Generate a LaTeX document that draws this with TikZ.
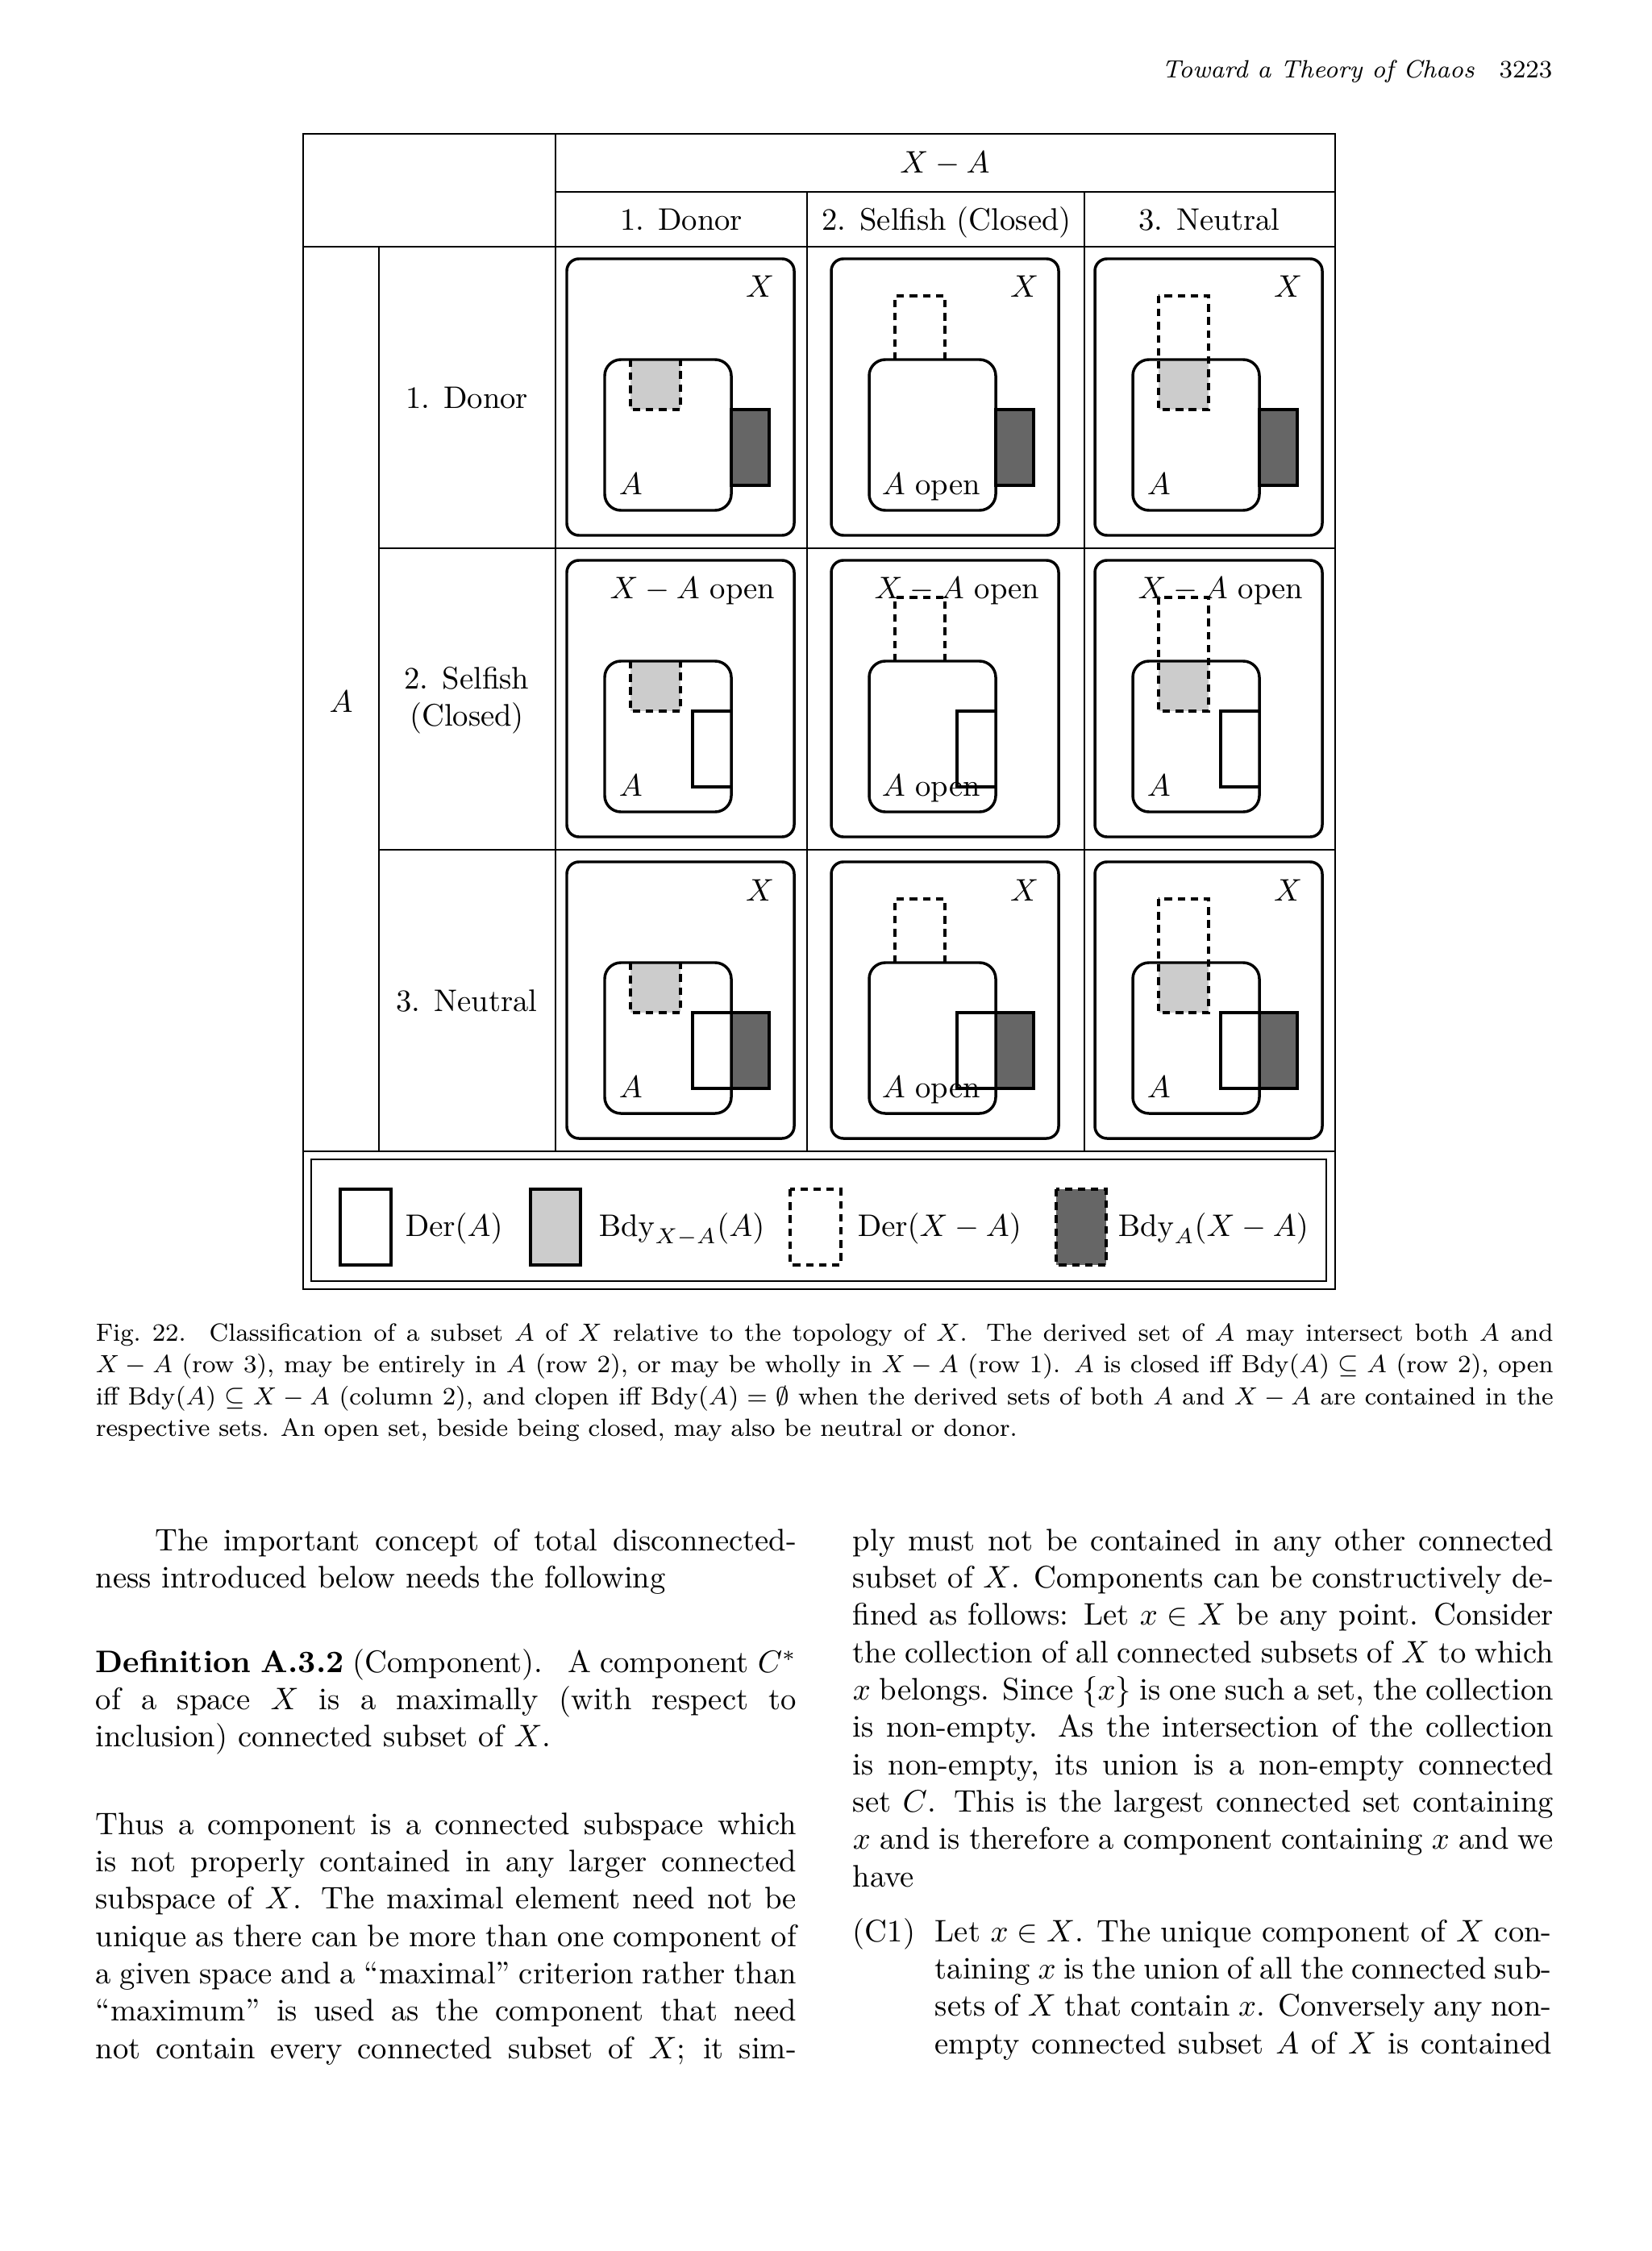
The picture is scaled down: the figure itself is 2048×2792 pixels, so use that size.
\documentclass[tikz,border=0pt]{standalone}
\usepackage{amsmath}
\usepackage{amssymb}
\usepackage{tikz}
\usetikzlibrary{positioning}
\definecolor{bdyin}{RGB}{204,204,204}
\definecolor{bdyout}{RGB}{102,102,102}
\tolerance=9999\relax
\hyphenpenalty=10000\relax
\tikzset{
  frame/.style={line width=0.75pt},
  setX/.style={line width=0.9pt, rounded corners=3.9pt},
  setA/.style={line width=0.9pt, rounded corners=5.2pt},
  derout/.style={line width=0.8pt, dash pattern=on 2.4pt off 1.8pt},
  plain/.style={line width=0.8pt},
  lbl/.style={inner sep=0pt, font=\fontsize{10}{12}\selectfont},
  body/.style={inner sep=0pt, anchor=base west, text width=225pt, align=justify,
    font=\fontsize{10}{12}\selectfont},
}

\begin{document}
\begin{tikzpicture}[x=0.25886pt, y=-0.25886pt]
  \useasboundingbox (0,0) rectangle (2048,2792);

  % Running head
  \node[inner sep=0pt, anchor=base east, font=\fontsize{8}{10}\selectfont] (head) at (1926,97)
    {\textit{Toward a Theory of Chaos}\quad 3223};

  % Table frame
  \draw[frame] (376,166) rectangle (1656,1599);
  \draw[frame] (689,238) -- (1656,238);
  \draw[frame] (376,306) -- (1656,306);
  \draw[frame] (689,166) -- (689,1428);
  \draw[frame] (1001,238) -- (1001,1428);
  \draw[frame] (1345,238) -- (1345,1428);
  \draw[frame] (470,306) -- (470,1428);
  \draw[frame] (470,680) -- (1656,680);
  \draw[frame] (470,1054) -- (1656,1054);
  \draw[frame] (376,1428) -- (1656,1428);
  \draw[frame] (386,1438) rectangle (1645,1589);

  % Headings
  \node[lbl, anchor=base] (hxa) at (1172,215) {$X-A$};
  \node[lbl, anchor=base] (hc1) at (845,286) {1. Donor};
  \node[lbl, anchor=base] (hc2) at (1174,286) {2. Selfish (Closed)};
  \node[lbl, anchor=base] (hc3) at (1500,286) {3. Neutral};
  \node[lbl, anchor=base] (ha) at (423,883) {$A$};
  \node[lbl, anchor=base] (hr1) at (579,507) {1. Donor};
  \node[lbl, anchor=north, align=center] (hr2) at (579,826) {2. Selfish\\(Closed)};
  \node[lbl, anchor=base] (hr3) at (579,1254) {3. Neutral};

  % Row 1, column 1
  \begin{scope}[shift={(703,321)}]
    \draw[setX] (0,0) rectangle (282,343);
    \fill[bdyin] (79,125) rectangle (141,187);
    \draw[derout] (79,125) -- (79,187) -- (141,187) -- (141,125);
    \draw[plain, fill=bdyout] (204,187) rectangle (251,281);
    \draw[setA] (47,125) rectangle (204,312);
    \node[lbl, anchor=base east] (x11) at (258,48) {$X$};
    \node[lbl, anchor=base west] (a11) at (64,292) {$A$};
  \end{scope}

  % Row 1, column 2
  \begin{scope}[shift={(1031,321)}]
    \draw[setX] (0,0) rectangle (282,343);
    \draw[derout] (79,125) -- (79,46) -- (141,46) -- (141,125);
    \draw[plain, fill=bdyout] (204,187) rectangle (251,281);
    \draw[setA] (47,125) rectangle (204,312);
    \node[lbl, anchor=base east] (x12) at (258,48) {$X$};
    \node[lbl, anchor=base west] (a12) at (62,292) {$A$ open};
  \end{scope}

  % Row 1, column 3
  \begin{scope}[shift={(1358,321)}]
    \draw[setX] (0,0) rectangle (282,343);
    \fill[bdyin] (79,125) rectangle (141,187);
    \draw[derout] (79,46) rectangle (141,187);
    \draw[plain, fill=bdyout] (204,187) rectangle (251,281);
    \draw[setA] (47,125) rectangle (204,312);
    \node[lbl, anchor=base east] (x13) at (258,48) {$X$};
    \node[lbl, anchor=base west] (a13) at (64,292) {$A$};
  \end{scope}

  % Row 2, column 1
  \begin{scope}[shift={(703,695)}]
    \draw[setX] (0,0) rectangle (282,343);
    \fill[bdyin] (79,125) rectangle (141,187);
    \draw[derout] (79,125) -- (79,187) -- (141,187) -- (141,125);
    \draw[plain] (204,187) -- (156,187) -- (156,281) -- (204,281);
    \draw[setA] (47,125) rectangle (204,312);
    \node[lbl, anchor=base east] (x21) at (259,47) {$X-A$ open};
    \node[lbl, anchor=base west] (a21) at (64,292) {$A$};
  \end{scope}

  % Row 2, column 2
  \begin{scope}[shift={(1031,695)}]
    \draw[setX] (0,0) rectangle (282,343);
    \draw[derout] (79,125) -- (79,46) -- (141,46) -- (141,125);
    \draw[plain] (204,187) -- (156,187) -- (156,281) -- (204,281);
    \draw[setA] (47,125) rectangle (204,312);
    \node[lbl, anchor=base east] (x22) at (259,47) {$X-A$ open};
    \node[lbl, anchor=base west] (a22) at (62,292) {$A$ open};
  \end{scope}

  % Row 2, column 3
  \begin{scope}[shift={(1358,695)}]
    \draw[setX] (0,0) rectangle (282,343);
    \fill[bdyin] (79,125) rectangle (141,187);
    \draw[derout] (79,46) rectangle (141,187);
    \draw[plain] (204,187) -- (156,187) -- (156,281) -- (204,281);
    \draw[setA] (47,125) rectangle (204,312);
    \node[lbl, anchor=base east] (x23) at (259,47) {$X-A$ open};
    \node[lbl, anchor=base west] (a23) at (64,292) {$A$};
  \end{scope}

  % Row 3, column 1
  \begin{scope}[shift={(703,1069)}]
    \draw[setX] (0,0) rectangle (282,343);
    \fill[bdyin] (79,125) rectangle (141,187);
    \draw[derout] (79,125) -- (79,187) -- (141,187) -- (141,125);
    \fill[bdyout] (204,187) rectangle (251,281);
    \draw[plain] (156,187) rectangle (251,281);
    \draw[setA] (47,125) rectangle (204,312);
    \node[lbl, anchor=base east] (x31) at (258,48) {$X$};
    \node[lbl, anchor=base west] (a31) at (64,292) {$A$};
  \end{scope}

  % Row 3, column 2
  \begin{scope}[shift={(1031,1069)}]
    \draw[setX] (0,0) rectangle (282,343);
    \draw[derout] (79,125) -- (79,46) -- (141,46) -- (141,125);
    \fill[bdyout] (204,187) rectangle (251,281);
    \draw[plain] (156,187) rectangle (251,281);
    \draw[setA] (47,125) rectangle (204,312);
    \node[lbl, anchor=base east] (x32) at (258,48) {$X$};
    \node[lbl, anchor=base west] (a32) at (62,292) {$A$ open};
  \end{scope}

  % Row 3, column 3
  \begin{scope}[shift={(1358,1069)}]
    \draw[setX] (0,0) rectangle (282,343);
    \fill[bdyin] (79,125) rectangle (141,187);
    \draw[derout] (79,46) rectangle (141,187);
    \fill[bdyout] (204,187) rectangle (251,281);
    \draw[plain] (156,187) rectangle (251,281);
    \draw[setA] (47,125) rectangle (204,312);
    \node[lbl, anchor=base east] (x33) at (258,48) {$X$};
    \node[lbl, anchor=base west] (a33) at (64,292) {$A$};
  \end{scope}

  % Legend
  \draw[plain] (422,1475) rectangle (485,1569);
  \node[lbl, anchor=base west] (kda) at (502,1533) {$\mathrm{Der}(A)$};
  \draw[plain, fill=bdyin] (658,1475) rectangle (720,1569);
  \node[lbl, anchor=base west] (kba) at (742,1533) {$\mathrm{Bdy}_{X-A}(A)$};
  \draw[derout] (980,1475) rectangle (1043,1569);
  \node[lbl, anchor=base west] (kdx) at (1063,1533) {$\mathrm{Der}(X-A)$};
  \draw[derout, fill=bdyout] (1310,1475) rectangle (1372,1569);
  \node[lbl, anchor=base west] (kbx) at (1386,1533) {$\mathrm{Bdy}_A(X-A)$};

  % Caption
  \node[body, text width=468pt, font=\fontsize{8}{10.25}\selectfont]
    (cap) at (118,1663) {Fig.~22.\hskip 7.5pt Classification of a subset $A$ of $X$ relative to the topology of $X$. The derived set of $A$ may intersect both $A$ and\linebreak
    $X-A$ (row 3), may be entirely in $A$ (row 2), or may be wholly in $X-A$ (row 1). $A$ is closed iff $\mathrm{Bdy}(A)\subseteq A$ (row 2), open\linebreak
    iff $\mathrm{Bdy}(A)\subseteq X-A$ (column 2), and clopen iff $\mathrm{Bdy}(A)=\emptyset$ when the derived sets of both $A$ and $X-A$ are contained in the\linebreak
    respective sets. An open set, beside being closed, may also be neutral or donor.};

  % Left column
  \node[body] (p1) at (118,1923) {\hspace*{19pt}The important concept of total disconnected-\linebreak
    ness introduced below needs the following};
  \node[body] (def) at (118,2074) {\textbf{Definition A.3.2} (Component).\hskip 8pt A component $C^*$\linebreak
    of a space $X$ is a maximally (with respect to\linebreak
    inclusion) connected subset of $X$.};
  \node[body] (p2) at (118,2275) {Thus a component is a connected subspace which\linebreak
    is not properly contained in any larger connected\linebreak
    subspace of $X$. The maximal element need not be\linebreak
    unique as there can be more than one component of\linebreak
    a given space and a ``maximal'' criterion rather than\linebreak
    ``maximum'' is used as the component that need\linebreak
    not contain every connected subset of $X$; it sim-\linebreak};

  % Right column
  \node[body] (p3) at (1057,1923) {ply must not be contained in any other connected\linebreak
    subset of $X$. Components can be constructively de-\linebreak
    fined as follows: Let $x\in X$ be any point. Consider\linebreak
    the collection of all connected subsets of $X$ to which\linebreak
    $x$ belongs. Since $\{x\}$ is one such a set, the collection\linebreak
    is non-empty. As the intersection of the collection\linebreak
    is non-empty, its union is a non-empty connected\linebreak
    set $C$. This is the largest connected set containing\linebreak
    $x$ and is therefore a component containing $x$ and we\linebreak
    have};
  \node[lbl, anchor=base west] (c1) at (1057,2408) {(C1)};
  \node[body, text width=198pt] (c1text) at (1159,2408) {Let $x\in X$. The unique component of $X$ con-\linebreak
    taining $x$ is the union of all the connected sub-\linebreak
    sets of $X$ that contain $x$. Conversely any non-\linebreak
    empty connected subset $A$ of $X$ is contained\linebreak};
\end{tikzpicture}
\end{document}
